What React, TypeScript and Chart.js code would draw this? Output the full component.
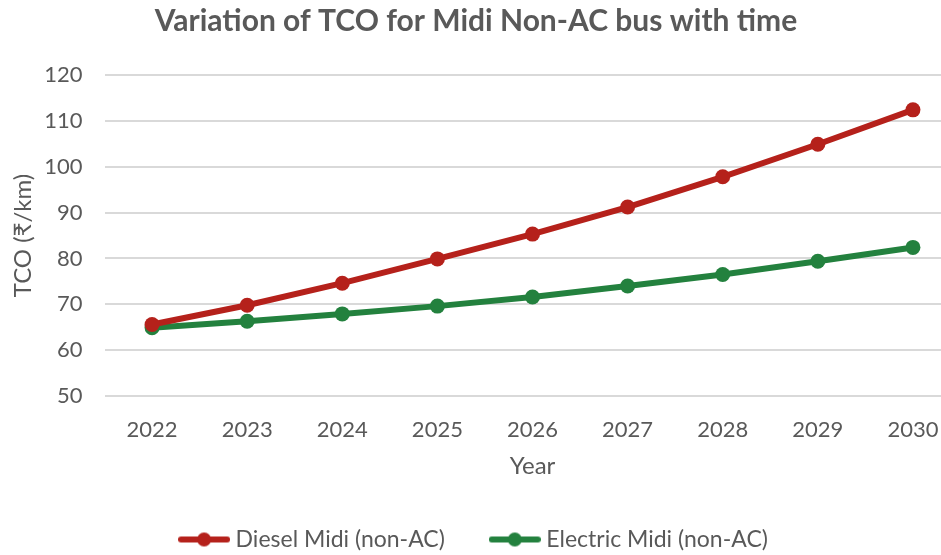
import React, { useEffect, useRef } from "react";
import { Chart, registerables } from "chart.js";

Chart.register(...registerables);

const years = ["2022", "2023", "2024", "2025", "2026", "2027", "2028", "2029", "2030"];
const dieselValues = [65.6, 69.8, 74.6, 79.9, 85.3, 91.2, 97.8, 104.9, 112.4];
const electricValues = [64.9, 66.3, 67.9, 69.6, 71.6, 74.0, 76.5, 79.4, 82.4];
const seriesNames = ["Diesel Midi (non-AC)", "Electric Midi (non-AC)"];
const chartTitle = "Variation of TCO for Midi Non-AC bus with time";
const yTitle = "TCO (₹/km)";
const xTitle = "Year";

const RED = "#B5211B";
const GREEN = "#23813E";
const TEXT = "#595959";
const FONT = "Lato, 'Open Sans', sans-serif";
const CANVAS_W = 968;
const CANVAS_H = 555;

function legendIcon(color: string): HTMLCanvasElement {
  const c = document.createElement("canvas");
  const w = 52, h = 18;
  c.width = w;
  c.height = h;
  const ctx = c.getContext("2d")!;
  ctx.strokeStyle = color;
  ctx.lineWidth = 6;
  ctx.lineCap = "round";
  ctx.beginPath();
  ctx.moveTo(3, h / 2);
  ctx.lineTo(w - 3, h / 2);
  ctx.stroke();
  ctx.fillStyle = color;
  ctx.beginPath();
  ctx.arc(w / 2, h / 2, 7, 0, Math.PI * 2);
  ctx.fill();
  return c;
}

export default function App() {
  const ref = useRef<HTMLCanvasElement | null>(null);
  useEffect(() => {
    if (!ref.current) return;
    const colors = [RED, GREEN];
    const mk = (label: string, data: number[], color: string) => ({
      label,
      data,
      borderColor: color,
      backgroundColor: color,
      borderWidth: 6,
      pointRadius: 7.5,
      pointHoverRadius: 7.5,
      pointBackgroundColor: color,
      pointBorderWidth: 0,
      tension: 0,
    });
    const chart = new Chart(ref.current, {
      type: "line",
      data: {
        labels: years,
        datasets: [
          mk(seriesNames[0], dieselValues, RED),
          mk(seriesNames[1], electricValues, GREEN),
        ],
      },
      options: {
        animation: false,
        responsive: false,
        devicePixelRatio: 1,
        layout: { padding: { left: -16, right: 0, top: 0, bottom: -6 } },
        plugins: {
          tooltip: { enabled: false },
          title: {
            display: true,
            text: chartTitle,
            color: TEXT,
            font: { family: FONT, size: 30, weight: "bold" },
            padding: { top: 3, bottom: 36 },
          },
          legend: {
            position: "bottom",
            labels: {
              usePointStyle: true,
              pointStyleWidth: 40,
              color: TEXT,
              font: { family: FONT, size: 23 },
              padding: 50,
              generateLabels: (ch: any) =>
                ch.data.datasets.map((ds: any, i: number) => ({
                  text: ds.label,
                  pointStyle: legendIcon(colors[i]),
                  fillStyle: colors[i],
                  strokeStyle: colors[i],
                  lineWidth: 0,
                  hidden: false,
                  datasetIndex: i,
                  fontColor: TEXT,
                })),
            },
          },
        },
        scales: {
          x: {
            offset: true,
            afterFit: (s: any) => {
              s.paddingLeft = 0;
              s.paddingRight = 0;
              s.height = 82;
            },
            grid: { display: false, drawTicks: false },
            border: { display: false },
            ticks: { color: TEXT, font: { family: FONT, size: 22 }, padding: 21 },
            title: {
              display: true,
              text: xTitle,
              color: TEXT,
              font: { family: FONT, size: 24 },
              padding: { top: 0, bottom: -3 },
            },
          },
          y: {
            min: 50,
            max: 120,
            afterFit: (s: any) => {
              s.width = 120.5;
            },
            grid: { color: "#d9d9d9", lineWidth: 2, drawTicks: false },
            border: { display: false },
            ticks: {
              stepSize: 10,
              color: TEXT,
              font: { family: FONT, size: 22 },
              padding: 22,
            },
            title: {
              display: true,
              text: yTitle,
              color: TEXT,
              font: { family: FONT, size: 24 },
              padding: { top: 25, bottom: 0 },
            },
          },
        },
      },
    });
    return () => chart.destroy();
  }, []);
  return (
    <div
      style={{
        position: "fixed",
        left: 0,
        top: 0,
        width: 941,
        height: 555,
        overflow: "hidden",
        background: "#fff",
      }}
    >
      <canvas
        ref={ref}
        width={CANVAS_W}
        height={CANVAS_H}
        style={{ display: "block", width: CANVAS_W, height: CANVAS_H }}
      />
    </div>
  );
}
